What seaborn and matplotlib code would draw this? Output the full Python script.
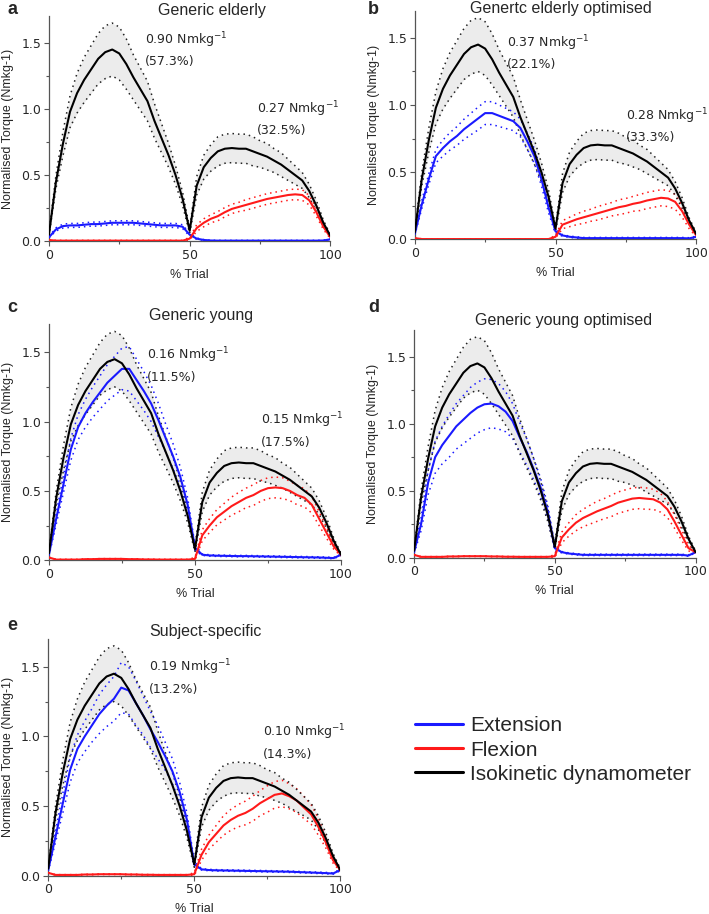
import numpy as np
import matplotlib
matplotlib.use("Agg")
import matplotlib.pyplot as plt
import seaborn as sns
from matplotlib.lines import Line2D
from matplotlib.ticker import MultipleLocator

# % trial sample points (every 2.5 %)
trial = [0, 2.5, 5, 7.5, 10, 12.5, 15, 17.5, 20, 22.5, 25, 27.5, 30, 32.5, 35, 37.5, 40, 42.5, 45, 47.5, 50,
         52.5, 55, 57.5, 60, 62.5, 65, 67.5, 70, 72.5, 75, 77.5, 80, 82.5, 85, 87.5, 90, 92.5, 95, 97.5, 100]

# Isokinetic dynamometer (same in every panel)
dyn_mean = [0.05, 0.45, 0.74, 0.98, 1.12, 1.22, 1.30, 1.38, 1.43, 1.45, 1.42, 1.34, 1.24, 1.15, 1.06, 0.91, 0.78, 0.65, 0.50, 0.32, 0.08,
            0.42, 0.56, 0.63, 0.68, 0.70, 0.705, 0.70, 0.70, 0.68, 0.66, 0.64, 0.61, 0.58, 0.54, 0.50, 0.46, 0.38, 0.27, 0.14, 0.04]
dyn_sd = [0.01, 0.05, 0.09, 0.12, 0.15, 0.17, 0.18, 0.19, 0.20, 0.20, 0.20, 0.19, 0.17, 0.16, 0.15, 0.13, 0.11, 0.09, 0.07, 0.05, 0.02,
          0.07, 0.09, 0.10, 0.11, 0.11, 0.11, 0.11, 0.11, 0.11, 0.10, 0.10, 0.09, 0.09, 0.08, 0.07, 0.06, 0.05, 0.04, 0.02, 0.01]

# Extension (blue)
ext_a = [0.03, 0.09, 0.115, 0.12, 0.12, 0.125, 0.13, 0.13, 0.135, 0.14, 0.14, 0.14, 0.14, 0.135, 0.13, 0.125, 0.12, 0.12, 0.12, 0.11, 0.05,
         0.02, 0.01, 0.006] + [0.005] * 15 + [0.006, 0.015]
ext_a_sd = [0.005, 0.012] + [0.015] * 18 + [0.01] + [0.005, 0.003] + [0.002] * 18
ext_b = [0.04, 0.26, 0.45, 0.62, 0.68, 0.73, 0.77, 0.82, 0.86, 0.90, 0.94, 0.94, 0.92, 0.90, 0.88, 0.83, 0.73, 0.62, 0.45, 0.24, 0.06,
         0.03, 0.02, 0.015] + [0.01] * 15 + [0.008, 0.02]
ext_b_sd = [0.01, 0.03, 0.04, 0.05, 0.06, 0.065, 0.07, 0.075, 0.08, 0.085, 0.085, 0.085, 0.08, 0.075, 0.07, 0.065, 0.06, 0.055, 0.05, 0.04, 0.02] + [0.005] * 20
ext_c = [0.04, 0.30, 0.55, 0.80, 0.96, 1.06, 1.14, 1.21, 1.28, 1.33, 1.38, 1.38, 1.30, 1.22, 1.13, 1.01, 0.88, 0.75, 0.60, 0.40, 0.09,
         0.04, 0.035, 0.033, 0.032, 0.031, 0.03, 0.03, 0.029, 0.028, 0.027, 0.026, 0.025, 0.024, 0.023, 0.022, 0.021, 0.02, 0.018, 0.016, 0.04]
ext_c_sd = [0.01, 0.04, 0.06, 0.08, 0.09, 0.10, 0.11, 0.12, 0.13, 0.14, 0.15, 0.16, 0.15, 0.14, 0.13, 0.12, 0.10, 0.09, 0.07, 0.05, 0.02] + [0.005] * 20
ext_d = [0.04, 0.25, 0.56, 0.75, 0.84, 0.91, 0.98, 1.03, 1.08, 1.12, 1.145, 1.15, 1.13, 1.09, 1.02, 0.90, 0.79, 0.66, 0.52, 0.34, 0.07,
         0.04, 0.03, 0.025] + [0.02] * 15 + [0.015, 0.04]
ext_d_sd = [0.01, 0.05, 0.09, 0.12, 0.14, 0.16, 0.17, 0.18, 0.19, 0.19, 0.19, 0.18, 0.17, 0.15, 0.13, 0.11, 0.10, 0.08, 0.07, 0.05, 0.02] + [0.005] * 20
ext_e = [0.04, 0.28, 0.52, 0.76, 0.91, 1.00, 1.08, 1.16, 1.22, 1.27, 1.35, 1.33, 1.24, 1.15, 1.05, 0.96, 0.86, 0.75, 0.60, 0.40, 0.08,
         0.045, 0.04, 0.038, 0.037, 0.036, 0.035, 0.034, 0.033, 0.032, 0.031, 0.03, 0.029, 0.028, 0.026, 0.024, 0.022, 0.02, 0.018, 0.015, 0.04]
ext_e_sd = [0.01, 0.04, 0.07, 0.09, 0.10, 0.11, 0.12, 0.14, 0.15, 0.16, 0.18, 0.17, 0.16, 0.14, 0.13, 0.12, 0.10, 0.09, 0.07, 0.05, 0.02] + [0.005] * 20

# Flexion (red)
flx_low = [0.02, 0.005, 0.005, 0.005, 0.005, 0.008, 0.008, 0.01, 0.01, 0.01, 0.01, 0.008, 0.008, 0.006, 0.006, 0.005, 0.005, 0.005, 0.005, 0.005, 0.01]
flx_low_sd = [0.002] * 20 + [0.01]
flx_a = [0.01] + [0.005] * 19 + [0.02] + [0.10, 0.14, 0.17, 0.19, 0.22, 0.245, 0.26, 0.275, 0.29, 0.305, 0.32, 0.33, 0.34, 0.35, 0.355, 0.35, 0.31, 0.22, 0.11, 0.03]
flx_a_sd = flx_low_sd + [0.025, 0.03, 0.03, 0.035, 0.035, 0.035, 0.035, 0.04, 0.04, 0.04, 0.04, 0.04, 0.04, 0.04, 0.04, 0.04, 0.035, 0.03, 0.02, 0.01]
flx_b = [0.01] + [0.003] * 19 + [0.02] + [0.11, 0.13, 0.15, 0.165, 0.18, 0.195, 0.21, 0.225, 0.24, 0.25, 0.265, 0.275, 0.29, 0.30, 0.31, 0.305, 0.28, 0.21, 0.11, 0.03]
flx_b_sd = flx_low_sd + [0.03, 0.035, 0.04, 0.045, 0.045, 0.05, 0.05, 0.05, 0.055, 0.055, 0.055, 0.06, 0.06, 0.06, 0.06, 0.06, 0.055, 0.045, 0.03, 0.01]
flx_c = flx_low + [0.18, 0.25, 0.31, 0.35, 0.39, 0.42, 0.45, 0.47, 0.50, 0.52, 0.525, 0.52, 0.50, 0.47, 0.45, 0.40, 0.30, 0.20, 0.10, 0.04]
flx_c_sd = flx_low_sd + [0.04, 0.05, 0.055, 0.06, 0.065, 0.07, 0.07, 0.075, 0.075, 0.075, 0.075, 0.075, 0.07, 0.07, 0.065, 0.06, 0.05, 0.04, 0.02, 0.01]
flx_d = flx_low + [0.15, 0.21, 0.26, 0.295, 0.32, 0.345, 0.365, 0.385, 0.41, 0.425, 0.44, 0.445, 0.44, 0.435, 0.41, 0.36, 0.27, 0.17, 0.07, 0.04]
flx_d_sd = flx_low_sd + [0.04, 0.05, 0.06, 0.065, 0.07, 0.075, 0.075, 0.08, 0.08, 0.08, 0.08, 0.08, 0.08, 0.075, 0.07, 0.06, 0.05, 0.04, 0.02, 0.01]
flx_e = flx_low + [0.15, 0.24, 0.30, 0.36, 0.40, 0.43, 0.45, 0.48, 0.52, 0.55, 0.58, 0.59, 0.57, 0.54, 0.49, 0.44, 0.35, 0.24, 0.11, 0.04]
flx_e_sd = flx_low_sd + [0.04, 0.05, 0.06, 0.07, 0.075, 0.08, 0.085, 0.09, 0.09, 0.095, 0.095, 0.095, 0.09, 0.085, 0.08, 0.07, 0.06, 0.04, 0.02, 0.01]

panel_letters = ["a", "b", "c", "d", "e"]
panel_titles = ["Generic elderly", "Genertc elderly optimised", "Generic young",
                "Generic young optimised", "Subject-specific"]
ext_rmse = ["0.90", "0.37", "0.16", None, "0.19"]
ext_pct = ["(57.3%)", "(22.1%)", "(11.5%)", None, "(13.2%)"]
flx_rmse = ["0.27", "0.28", "0.15", None, "0.10"]
flx_pct = ["(32.5%)", "(33.3%)", "(17.5%)", None, "(14.3%)"]
ext_all = [(ext_a, ext_a_sd), (ext_b, ext_b_sd), (ext_c, ext_c_sd), (ext_d, ext_d_sd), (ext_e, ext_e_sd)]
flx_all = [(flx_a, flx_a_sd), (flx_b, flx_b_sd), (flx_c, flx_c_sd), (flx_d, flx_d_sd), (flx_e, flx_e_sd)]
legend_labels = ["Extension", "Flexion", "Isokinetic dynamometer"]

BLUE = "#1a1aff"
RED = "#ff1a1a"

sns.set_style("ticks")
plt.rcParams["font.family"] = ["DejaVu Sans"]

W, H = 709, 914
fig = plt.figure(figsize=(W / 100, H / 100), dpi=100)

# axes boxes [left, bottom, width, height]
boxes = [[0.069, 0.736, 0.397, 0.246],
         [0.585, 0.738, 0.397, 0.250],
         [0.069, 0.387, 0.412, 0.258],
         [0.584, 0.390, 0.397, 0.249],
         [0.068, 0.042, 0.412, 0.259]]
title_xy = [(0.58, 1.027), (0.52, 1.009), (0.52, 1.038), (0.53, 1.04), (0.54, 1.03)]
letter_px = [(7, 10), (368, 9), (7, 308), (368, 307), (7, 625)]
# annotation anchors: (ext x, ext y, flex x, flex y) in data coords
ann_pos = [(34.2, 1.52, 74.0, 0.995), (32.7, 1.46, 75.0, 0.92), (33.6, 1.48, 72.6, 1.01),
           None, (34.6, 1.50, 73.6, 1.03)]

x = np.array(trial)
dm, ds = np.array(dyn_mean), np.array(dyn_sd)
dots = (0, (1, 2.6))

for i in range(5):
    ax = fig.add_axes(boxes[i])
    ax.fill_between(x, dm - ds, dm + ds, color="#ececec", lw=0, zorder=1)
    for mean, sd, col in [(ext_all[i][0], ext_all[i][1], BLUE),
                          (flx_all[i][0], flx_all[i][1], RED)]:
        m, s = np.array(mean), np.array(sd)
        sns.lineplot(x=x, y=m + s, ax=ax, color=col, lw=1.1, ls=dots, zorder=2)
        sns.lineplot(x=x, y=np.clip(m - s, 0, None), ax=ax, color=col, lw=1.1, ls=dots, zorder=2)
    sns.lineplot(x=x, y=dm + ds, ax=ax, color="#222222", lw=1.1, ls=dots, zorder=3)
    sns.lineplot(x=x, y=dm - ds, ax=ax, color="#222222", lw=1.1, ls=dots, zorder=3)
    sns.lineplot(x=x, y=ext_all[i][0], ax=ax, color=BLUE, lw=1.5, zorder=4)
    sns.lineplot(x=x, y=flx_all[i][0], ax=ax, color=RED, lw=1.5, zorder=4)
    sns.lineplot(x=x, y=dm, ax=ax, color="black", lw=1.5, zorder=5)

    ax.set_xlim(0, 100)
    ax.set_ylim(0, 1.7)
    ax.set_xticks([0, 50, 100])
    ax.set_yticks([0, 0.5, 1.0, 1.5])
    ax.set_yticklabels(["0.0", "0.5", "1.0", "1.5"])
    ax.yaxis.set_minor_locator(MultipleLocator(0.25))
    ax.xaxis.set_minor_locator(MultipleLocator(25))
    ax.tick_params(which="major", length=3.5, width=0.8, labelsize=9, color="#555555", pad=2)
    ax.tick_params(which="minor", length=2, width=0.8, color="#555555")
    for sp in ["left", "bottom"]:
        ax.spines[sp].set_color("#555555")
        ax.spines[sp].set_linewidth(0.9)
    sns.despine(ax=ax)
    ax.set_xlabel("% Trial", fontsize=9, labelpad=5, family="Liberation Sans")
    ax.set_ylabel("Normalised Torque (Nmkg-1)", fontsize=9, labelpad=5, family="Liberation Sans")
    tx, ty = title_xy[i]
    ax.text(tx, ty, panel_titles[i], transform=ax.transAxes, ha="center", va="center",
            fontsize=11.5, family="Liberation Sans")
    lx, ly = letter_px[i]
    fig.text(lx / W, 1 - ly / H, panel_letters[i], fontsize=13, fontweight="bold",
             family="Liberation Sans", ha="left", va="center")

    if ann_pos[i] is None:
        continue
    ex, ey, fx, fy = ann_pos[i]
    ax.text(ex, ey, ext_rmse[i] + r" Nmkg$^{-1}$", fontsize=9, va="center")
    ax.text(ex, ey - 0.16, ext_pct[i], fontsize=9, va="center")
    ax.text(fx, fy, flx_rmse[i] + r" Nmkg$^{-1}$", fontsize=9, va="center")
    ax.text(fx, fy - 0.16, flx_pct[i], fontsize=9, va="center")

handles = [Line2D([0], [0], color=c, lw=2.2) for c in [BLUE, RED, "black"]]
fig.legend(handles, legend_labels, loc="center left", bbox_to_anchor=(415 / W, 1 - 750 / H),
           frameon=False, handlelength=2.3, handletextpad=0.35, borderpad=0, borderaxespad=0,
           labelspacing=0.25, prop={"family": "Liberation Sans", "size": 15})

fig.savefig("out.png", dpi=100)
